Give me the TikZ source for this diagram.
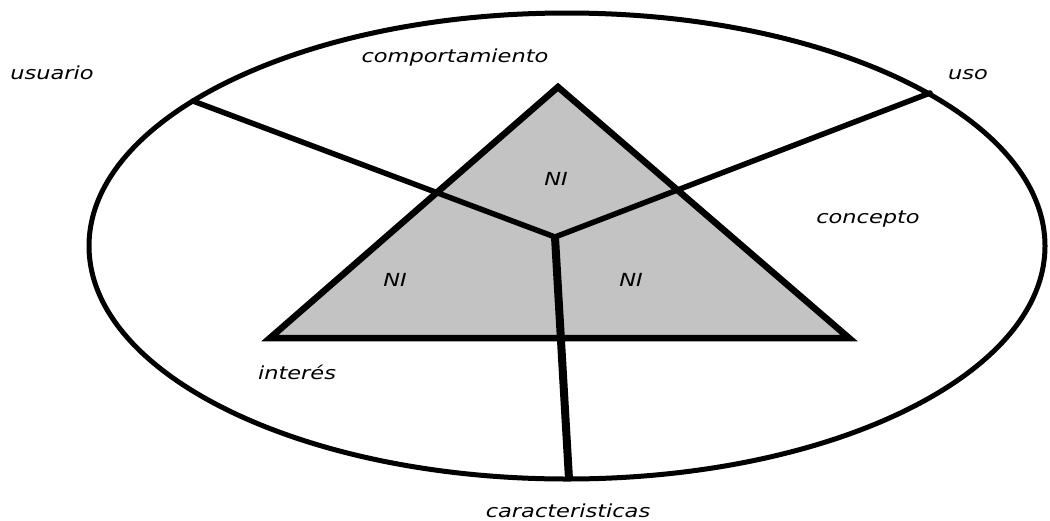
\documentclass[tikz,border=0pt]{standalone}
\usepackage{fontspec}
\newfontfamily\lblfont{DejaVu Sans}
\definecolor{trigray}{HTML}{C3C3C3}
\begin{document}
\begin{tikzpicture}[x=1pt,y=-1pt,
  lbl/.style={font=\lblfont\itshape\fontsize{18}{20}\selectfont, xscale=1.25, inner sep=0pt, text=black},
  edge/.style={line width=5.5pt, line cap=round, line join=round},
  outline/.style={line width=6.5pt, line join=miter}]
\useasboundingbox (0,0) rectangle (1050,520);
\fill[white] (0,0) rectangle (1050,520);
% key points
\coordinate (top) at (558,87);
\coordinate (bl) at (270,338);
\coordinate (br) at (849,338);
\coordinate (ctr) at (555,237);
\coordinate (eul) at (193,101);
\coordinate (eur) at (930,93);
\coordinate (ebot) at (569,479);
% triangle fill
\fill[trigray] (top) -- (bl) -- (br) -- cycle;
% dividing lines
\draw[edge] (eul) -- (ctr);
\draw[edge] (eur) -- (ctr);
\draw[line width=8pt] (ctr) -- (ebot);
% triangle outline
\draw[outline] (top) -- (bl) -- (br) -- cycle;
% ellipse
\draw[line width=5pt] (567,246) ellipse [x radius=478pt, y radius=233pt];
% labels
\node[lbl] (ni1) at (556,179) {NI};
\node[lbl] (ni2) at (395,280) {NI};
\node[lbl] (ni3) at (631,280) {NI};
\node[lbl] (comp) at (455,58) {comportamiento};
\node[lbl] (usu) at (52,73) {usuario};
\node[lbl] (uso) at (968,75) {uso};
\node[lbl] (conc) at (868,219) {concepto};
\node[lbl] (inte) at (297,372) {interés};
\node[lbl] (cara) at (568,511) {caracteristicas};
\end{tikzpicture}
\end{document}
